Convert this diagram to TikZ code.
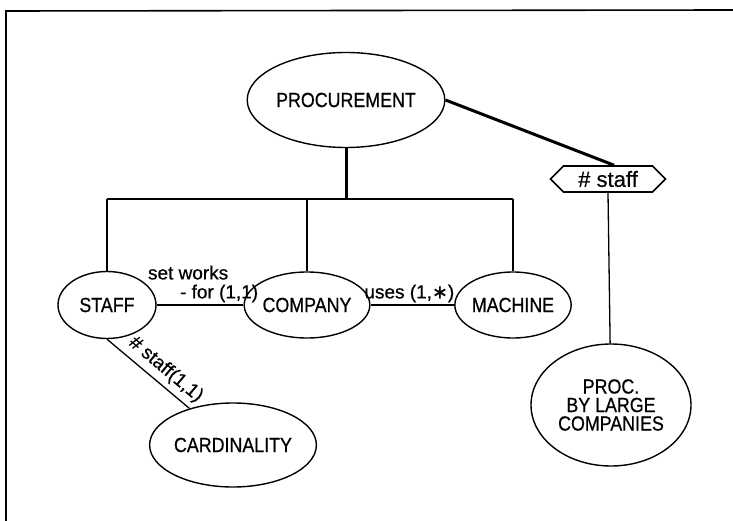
\documentclass[tikz,border=0pt]{standalone}
\usepackage{fontspec}
\setmainfont[FakeStretch=0.87,FakeBold=0.6]{Liberation Sans}
\newfontfamily\labelfont[FakeBold=0.6]{Liberation Sans}
\newfontfamily\symfont[FakeBold=0.6]{DejaVu Sans}
\usetikzlibrary{shapes.geometric,shapes.symbols}
\begin{document}
\begin{tikzpicture}[x=1pt,y=-1pt,
  every node/.style={font=\fontsize{20.5}{22}\selectfont},
  entity/.style={draw, ellipse, line width=1.4pt, inner sep=0pt, align=center},
  link/.style={line width=1.3pt},
  heavy/.style={line width=3pt},
  rolelabel/.style={font=\labelfont\fontsize{19}{19}\selectfont, inner sep=2pt},
  tagbox/.style={draw, shape=signal, signal to=east and west, line width=1.6pt,
    minimum width=115pt, minimum height=26pt, inner sep=1pt,
    font=\labelfont\fontsize{22}{22}\selectfont}]
\useasboundingbox (0,0) rectangle (733,521);

% frame edges
\draw[line width=1.6pt] (6,521) -- (6,11) -- (733,10);

% entities
\node[entity, minimum width=150pt, minimum height=95pt] (proc) at (346,100) {PROCUREMENT};
\node[entity, minimum width=98pt, minimum height=67pt] (staff) at (107,305) {STAFF};
\node[entity, minimum width=102pt, minimum height=66pt] (company) at (307,305) {COMPANY};
\node[entity, minimum width=103pt, minimum height=66pt] (machine) at (513,305) {MACHINE};
\node[entity, minimum width=130pt, minimum height=84pt] (card) at (233,445) {CARDINALITY};
\node[entity, minimum width=160pt, minimum height=122pt,
      font=\fontsize{20.5}{18.5}\selectfont] (large) at (611,405) {PROC.\\BY LARGE\\COMPANIES};
\node[tagbox] (hex) at (608,179) {\# staff};

% decomposition bus
\coordinate (bL) at (107,199);
\coordinate (bM) at (346,199);
\coordinate (bR) at (513,199);
\draw[heavy] (proc) -- (bM);
\draw[link] (bL) -- (bR);
\draw[link] (bL) -- (staff);
\draw[link] (company |- bL) -- (company);
\draw[link] (bR) -- (machine);

% relationships
\draw[link] (staff) -- node[rolelabel, above, align=left, xshift=3pt]
  {set works\\\hspace*{32pt}- for (1,1)} (company);
\draw[link] (company) -- node[rolelabel, above, xshift=-3pt]
  {uses (1,{\symfont ∗})} (machine);
\draw[link] (staff.south) -- node[rolelabel, sloped, above=3pt, pos=0.6]
  {\# staff(1,1)} (card);

% selection by staff count
\draw[heavy] (proc.east) -- ([xshift=6pt]hex.north);
\draw[link] (hex.south) -- (large);
\end{tikzpicture}
\end{document}
